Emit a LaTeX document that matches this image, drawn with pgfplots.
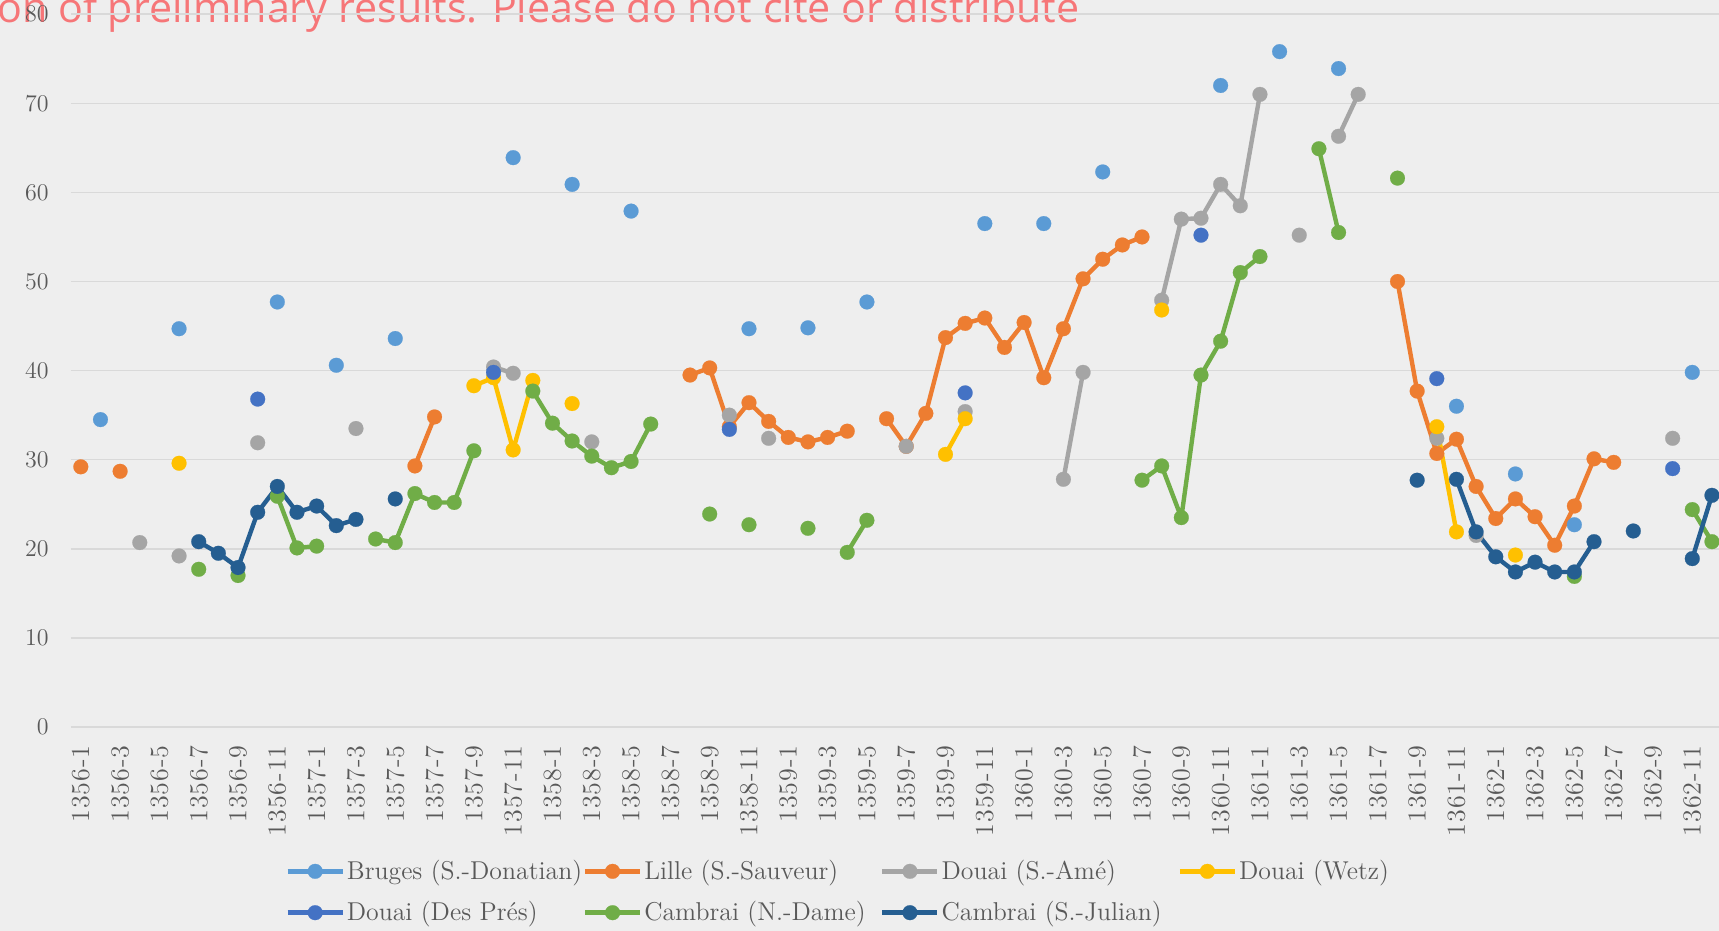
\documentclass[border=0pt]{standalone}
\usepackage{fontspec}
\usepackage{pgfplots}
\pgfplotsset{compat=1.18}
\newfontfamily\titlefont{Open Sans}
\newfontfamily\tickfont{Latin Modern Roman}[LetterSpace=4]

\definecolor{bgc}{RGB}{238,238,238}
\definecolor{gridc}{RGB}{217,217,217}
\definecolor{tickc}{RGB}{89,89,89}
\definecolor{titlec}{RGB}{246,118,120}
\definecolor{cbruges}{RGB}{91,155,213}
\definecolor{clille}{RGB}{237,125,49}
\definecolor{came}{RGB}{165,165,165}
\definecolor{cwetz}{RGB}{255,192,0}
\definecolor{cpres}{RGB}{68,114,196}
\definecolor{cdame}{RGB}{112,173,71}
\definecolor{cjulian}{RGB}{37,94,145}

\pgfplotsset{
  ser/.style={color=#1, line width=2.2pt, line join=round, mark=*, mark size=3.7pt,
              mark options={solid, fill=#1, draw=#1, line width=0.1pt}},
}

\begin{document}
\begin{tikzpicture}
% 1 px of the reference = 0.5pt
\clip (-35.5pt,-102pt) rectangle (824pt,363.5pt);
\fill[bgc] (-35.5pt,-102pt) rectangle (824pt,363.5pt);
\node[overlay, anchor=base west, inner sep=0pt, text=titlec,
      font=\titlefont\fontsize{20.6}{24}\selectfont] at (-37pt,352pt)
     {on of preliminary results. Please do not cite or distribute};
\begin{axis}[
    at={(0pt,0pt)}, anchor=south west,
    scale only axis, width=824pt, height=356.4pt,
    xmin=-0.5, xmax=83.36, ymin=0, ymax=80,
    axis line style={draw=none},
    major tick length=0pt,
    ymajorgrids, grid style={gridc, line width=0.75pt},
    ytick={0,10,...,80},
    xtick={0,2,...,82},
    xticklabels={1356-1,1356-3,1356-5,1356-7,1356-9,1356-11,
                 1357-1,1357-3,1357-5,1357-7,1357-9,1357-11,
                 1358-1,1358-3,1358-5,1358-7,1358-9,1358-11,
                 1359-1,1359-3,1359-5,1359-7,1359-9,1359-11,
                 1360-1,1360-3,1360-5,1360-7,1360-9,1360-11,
                 1361-1,1361-3,1361-5,1361-7,1361-9,1361-11,
                 1362-1,1362-3,1362-5,1362-7,1362-9,1362-11},
    xticklabel style={rotate=90, anchor=east, inner xsep=9pt, text=tickc,
                      font=\tickfont\fontsize{13}{15}\selectfont},
    yticklabel style={anchor=east, inner xsep=11pt, text=tickc,
                      font=\fontsize{12}{14}\selectfont},
    unbounded coords=jump,
    legend columns=4,
    legend image code/.code={\draw[mark repeat=2, mark phase=2, #1]
        plot coordinates {(0pt,0pt) (13.75pt,0pt) (27.5pt,0pt)};},
    legend style={at={(axis description cs:0.1299,-0.2315)}, anchor=west,
                  draw=none, fill=none, inner sep=0pt, column sep=0pt, row sep=7.5pt,
                  nodes={inner sep=1pt, text=tickc, font=\fontsize{12.9}{14}\selectfont}},
]
\addplot[ser=cbruges] coordinates {% Bruges (S.-Donatian)
  (1,34.5) (2,nan) (5,44.7) (6,nan) (10,47.7) (11,nan) (13,40.6) (14,nan)
  (16,43.6) (17,nan) (22,63.9) (23,nan) (25,60.9) (26,nan) (28,57.9) (29,nan)
  (34,44.7) (35,nan) (37,44.8) (38,nan) (40,47.7) (41,nan) (46,56.5) (47,nan)
  (49,56.5) (50,nan) (52,62.3) (53,nan) (58,72.0) (59,nan) (61,75.8) (62,nan)
  (64,73.9) (65,nan) (70,36.0) (71,nan) (73,28.4) (74,nan) (76,22.7) (77,nan)
  (82,39.8)
};
\addlegendentry{\makebox[117pt][l]{Bruges (S.-Donatian)}}

\addplot[ser=clille] coordinates {% Lille (S.-Sauveur)
  (0,29.2) (1,nan) (2,28.7) (3,nan) (17,29.3) (18,34.8) (19,nan)
  (31,39.5) (32,40.3) (33,33.7) (34,36.4) (35,34.3) (36,32.5) (37,32.0)
  (38,32.5) (39,33.2) (40,nan) (41,34.6) (42,31.5) (43,35.2) (44,43.7)
  (45,45.3) (46,45.9) (47,42.6) (48,45.4) (49,39.2) (50,44.7) (51,50.3)
  (52,52.5) (53,54.1) (54,55.0) (55,nan) (67,50.0) (68,37.7) (69,30.7)
  (70,32.3) (71,27.0) (72,23.4) (73,25.6) (74,23.6) (75,20.4) (76,24.8)
  (77,30.1) (78,29.7)
};
\addlegendentry{\makebox[117pt][l]{Lille (S.-Sauveur)}}

\addplot[ser=came] coordinates {% Douai (S.-Amé)
  (3,20.7) (4,nan) (5,19.2) (6,nan) (9,31.9) (10,nan) (14,33.5) (15,nan)
  (21,40.4) (22,39.7) (23,nan) (26,32.0) (27,nan) (33,35.0) (34,nan)
  (35,32.4) (36,nan) (42,31.5) (43,nan) (45,35.4) (46,nan) (50,27.8)
  (51,39.8) (52,nan) (55,47.9) (56,57.0) (57,57.1) (58,60.9) (59,58.5)
  (60,71.0) (61,nan) (62,55.2) (63,nan) (64,66.3) (65,71.0) (66,nan)
  (69,32.4) (70,nan) (71,21.5) (72,nan) (81,32.4)
};
\addlegendentry{\makebox[117pt][l]{Douai (S.-Amé)}}

\addplot[ser=cwetz] coordinates {% Douai (Wetz)
  (5,29.6) (6,nan) (20,38.3) (21,39.2) (22,31.1) (23,38.9) (24,nan)
  (25,36.3) (26,nan) (44,30.6) (45,34.6) (46,nan) (55,46.8) (56,nan)
  (69,33.7) (70,21.9) (71,nan) (73,19.3)
};
\addlegendentry{\makebox[117pt][l]{Douai (Wetz)}}

\addplot[ser=cpres] coordinates {% Douai (Des Prés)
  (9,36.8) (10,nan) (21,39.8) (22,nan) (33,33.4) (34,nan) (45,37.5)
  (46,nan) (57,55.2) (58,nan) (69,39.1) (70,nan) (81,29.0)
};
\addlegendentry{\makebox[117pt][l]{Douai (Des Prés)}}

\addplot[ser=cdame] coordinates {% Cambrai (N.-Dame)
  (6,17.7) (7,nan) (8,17.0) (9,nan) (10,25.9) (11,20.1) (12,20.3) (13,nan)
  (15,21.1) (16,20.7) (17,26.2) (18,25.2) (19,25.2) (20,31.0) (21,nan)
  (23,37.7) (24,34.1) (25,32.1) (26,30.4) (27,29.1) (28,29.8) (29,34.0)
  (30,nan) (32,23.9) (33,nan) (34,22.7) (35,nan) (37,22.3) (38,nan)
  (39,19.6) (40,23.2) (41,nan) (54,27.7) (55,29.3) (56,23.5) (57,39.5)
  (58,43.3) (59,51.0) (60,52.8) (61,nan) (63,64.9) (64,55.5) (65,nan)
  (67,61.6) (68,nan) (76,16.9) (77,nan) (82,24.4) (83,20.8)
};
\addlegendentry{\makebox[117pt][l]{Cambrai (N.-Dame)}}

\addplot[ser=cjulian] coordinates {% Cambrai (S.-Julian)
  (6,20.8) (7,19.5) (8,17.9) (9,24.1) (10,27.0) (11,24.1) (12,24.8)
  (13,22.6) (14,23.3) (15,nan) (16,25.6) (17,nan) (68,27.7) (69,nan)
  (70,27.8) (71,21.9) (72,19.1) (73,17.4) (74,18.5) (75,17.4) (76,17.4)
  (77,20.8) (78,nan) (79,22.0) (80,nan) (82,18.9) (83,26.0)
};
\addlegendentry{\makebox[117pt][l]{Cambrai (S.-Julian)}}
\end{axis}
\end{tikzpicture}
\end{document}
